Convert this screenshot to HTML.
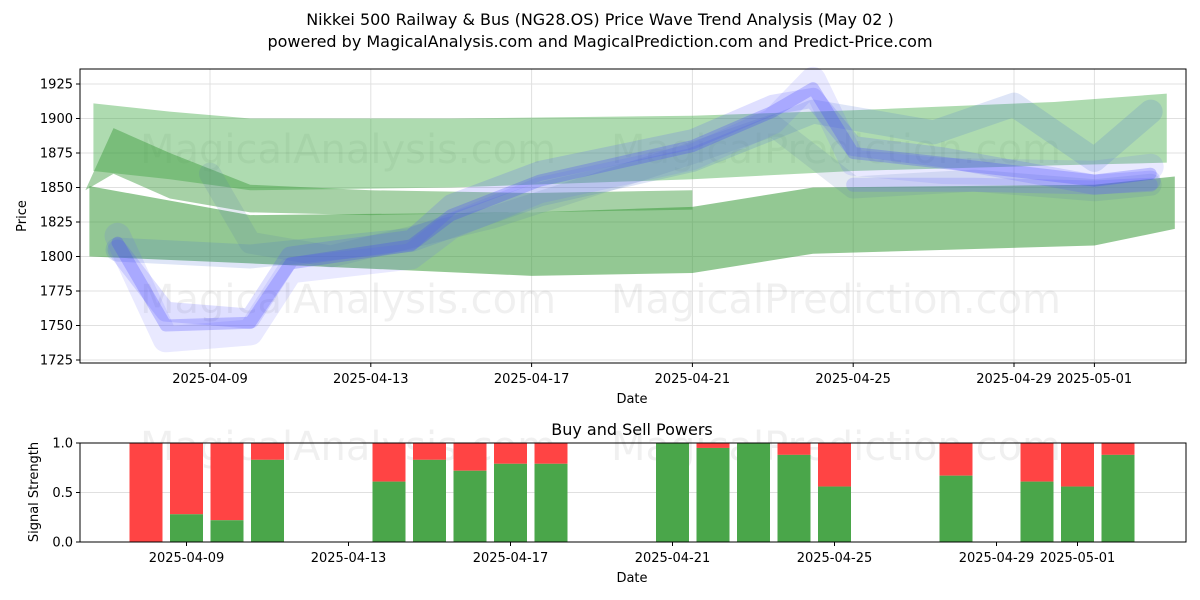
<!DOCTYPE html>
<html><head><meta charset="utf-8"><style>
body{margin:0;background:#fff;}
svg{display:block;font-family:"DejaVu Sans","Liberation Sans",sans-serif;}
</style></head><body>
<svg id="c" width="1200" height="600" viewBox="0 0 1200 600">
<text x="600" y="25" text-anchor="middle" font-size="16">Nikkei 500 Railway &amp; Bus (NG28.OS) Price Wave Trend Analysis (May 02 )</text>
<text x="600" y="47" text-anchor="middle" font-size="16">powered by MagicalAnalysis.com and MagicalPrediction.com and Predict-Price.com</text>
<g id="topPanel"></g>
<g id="botPanel"></g>
</svg>
<script>
// ---- data ----
const priceTicks = [1725,1750,1775,1800,1825,1850,1875,1900,1925];
const topDateTicks = ["2025-04-09","2025-04-13","2025-04-17","2025-04-21","2025-04-25","2025-04-29","2025-05-01"];
const topDateTickDays = [0,4,8,12,16,20,22];
const band1Days = [-2.9,-1,1,6,12,16,21,23.8];
const band1Upper = [1911,1905,1900,1900,1902,1906,1912,1918];
const band1Lower = [1862,1856,1848,1850,1856,1862,1866,1868];
const band2Days = [-3.1,-2.4,-1,1,4,8,12];
const band2Upper = [1848,1893,1875,1852,1848,1846,1848];
const band2Lower = [1848,1860,1842,1832,1830,1832,1834];
const band3Days = [-3,1,8,12,15,22,24];
const band3Upper = [1851,1830,1832,1836,1850,1852,1858];
const band3Lower = [1800,1795,1786,1788,1802,1808,1820];
const waveDays = [-2.3,-1.1,1,2,5,6,8.2,12,14,15,16,18.2,22,23.4];
const waveA = [1810,1750,1752,1795,1808,1830,1855,1880,1905,1922,1875,1868,1855,1860];
const waveB = [1805,1760,1755,1800,1812,1838,1862,1885,1910,1915,1880,1872,1852,1855];
const waveC = [1815,1740,1745,1790,1800,1822,1848,1872,1898,1928,1868,1862,1860,1865];
const wave2Days = [-2.3,1,5,8.2,12,15,18,20,22,23.4];
const wave2 = [1805,1800,1812,1845,1870,1905,1890,1910,1870,1905];
const wave3Days = [0,1,3,7,12,14,16,19,22,23.4];
const wave3 = [1860,1810,1800,1828,1875,1895,1850,1855,1848,1852];
const wave4Days = [16,19,22,23.4];
const wave4 = [1852,1852,1850,1852];
const sigDays = [-1,0,1,2,5,6,7,8,9,12,13,14,15,16,19,21,22,23];
const buyPower = [0,0.28,0.22,0.83,0.61,0.83,0.72,0.79,0.79,1.0,0.95,1.0,0.88,0.56,0.67,0.61,0.56,0.88];
const sigTicks = [0,0.5,1.0];
const sigTickLabels = ["0.0","0.5","1.0"];

const NS="http://www.w3.org/2000/svg";
function mk(tag,attrs,parent){const e=document.createElementNS(NS,tag);for(const k in attrs)e.setAttribute(k,attrs[k]);parent.appendChild(e);return e;}
const topG=document.getElementById('topPanel'), botG=document.getElementById('botPanel');
const TL=80,TR=1186,TT=69,TB=363;
const xT=d=>210+40.2*d;
const yT=p=>118.5+(1900-p)*1.38;
priceTicks.forEach(p=>{
  const g=mk('line',{x1:TL,x2:TR,y1:yT(p),y2:yT(p),stroke:'#e0e0e0','stroke-width':1},topG);
  
  
  mk('line',{x1:TL-4,x2:TL,y1:yT(p),y2:yT(p),stroke:'#000'},topG);
  const t=mk('text',{x:TL-7,y:yT(p)+4.5,'text-anchor':'end','font-size':13},topG);t.textContent=p;
  
  
});
topDateTicks.forEach((s,i)=>{
  const x=xT(topDateTickDays[i]);
  const g=mk('line',{x1:x,x2:x,y1:TT,y2:TB,stroke:'#e0e0e0'},topG);
  
  
  mk('line',{x1:x,x2:x,y1:TB,y2:TB+4,stroke:'#000'},topG);
  const t=mk('text',{x:x,y:TB+20,'text-anchor':'middle','font-size':13},topG);t.textContent=s;
  
  
});
function wm(x,y,s,p){const t=mk('text',{x:x,y:y,'text-anchor':'middle','font-size':40,fill:'#000','fill-opacity':0.06},p);t.textContent=s;
  
  }
wm(348,163,'MagicalAnalysis.com',topG);wm(836,163,'MagicalPrediction.com',topG);
wm(348,313,'MagicalAnalysis.com',topG);wm(836,313,'MagicalPrediction.com',topG);
function band(days,up,lo,fill,op,name){
  let pts=days.map((d,i)=>xT(d)+','+yT(up[i]));
  pts=pts.concat(days.map((d,i)=>xT(d)+','+yT(lo[i])).reverse());
  const e=mk('polygon',{points:pts.join(' '),fill:fill,'fill-opacity':op},topG);
  
  
}
band(band1Days,band1Upper,band1Lower,'#4caf50',0.45,'green-band-upper');
band(band2Days,band2Upper,band2Lower,'#3a9a3a',0.45,'green-band-middle');
band(band3Days,band3Upper,band3Lower,'#3a9a3a',0.55,'green-band-lower');
function wave(days,vals,w,op,col,name){
  const d=days.map((x,i)=>(i?'L':'M')+xT(x)+' '+yT(vals[i])).join(' ');
  const e=mk('path',{d:d,fill:'none',stroke:col,'stroke-width':w,'stroke-opacity':op,'stroke-linejoin':'round','stroke-linecap':'round'},topG);
  
  
}
wave(wave2Days,wave2,24,0.18,'#4a6fd0','wave-secondary');
wave(wave3Days,wave3,22,0.16,'#5a7ab0','wave-tertiary');
wave(wave4Days,wave4,14,0.2,'#6060ff','wave-flat');
wave(waveDays,waveC,26,0.14,'#6060ff','wave-outer');
wave(waveDays,waveB,20,0.18,'#5050ff','wave-mid');
wave(waveDays,waveA,12,0.25,'#4040ff','wave-main');
mk('rect',{x:TL,y:TT,width:TR-TL,height:TB-TT,fill:'none',stroke:'#000','stroke-width':1},topG);
let t=mk('text',{x:632,y:403,'text-anchor':'middle','font-size':13},topG);t.textContent='Date';

t=mk('text',{x:26,y:216,'text-anchor':'middle','font-size':13,transform:'rotate(-90 26 216)'},topG);t.textContent='Price';


const BL=80,BR=1186,BT=443,BB=542;
const xB=d=>186.5+40.5*d;
const yB=v=>BB-(BB-BT)*v;
wm(348,460,'MagicalAnalysis.com',botG);wm(836,460,'MagicalPrediction.com',botG);
sigTicks.forEach((v,i)=>{
  const g=mk('line',{x1:BL,x2:BR,y1:yB(v),y2:yB(v),stroke:'#e0e0e0'},botG);
  
  
  mk('line',{x1:BL-4,x2:BL,y1:yB(v),y2:yB(v),stroke:'#000'},botG);
  const tt=mk('text',{x:BL-7,y:yB(v)+4.5,'text-anchor':'end','font-size':13},botG);tt.textContent=sigTickLabels[i];
  
  
});
topDateTicks.forEach((s,i)=>{
  const x=xB(topDateTickDays[i]);
  mk('line',{x1:x,x2:x,y1:BB,y2:BB+4,stroke:'#000'},botG);
  const tt=mk('text',{x:x,y:BB+20,'text-anchor':'middle','font-size':13},botG);tt.textContent=s;
  
  
});
sigDays.forEach((d,i)=>{
  const x=xB(d)-16.5,b=buyPower[i];
  const r=mk('rect',{x:x,y:yB(1),width:33,height:yB(b)-yB(1),fill:'#ff4444'},botG);
  
  
  const g=mk('rect',{x:x,y:yB(b),width:33,height:BB-yB(b),fill:'#4aa64a'},botG);
  
  
});
mk('rect',{x:BL,y:BT,width:BR-BL,height:BB-BT,fill:'none',stroke:'#000'},botG);
t=mk('text',{x:632,y:435,'text-anchor':'middle','font-size':16},botG);t.textContent='Buy and Sell Powers';

t=mk('text',{x:632,y:582,'text-anchor':'middle','font-size':13},botG);t.textContent='Date';

t=mk('text',{x:38,y:492,'text-anchor':'middle','font-size':13,transform:'rotate(-90 38 492)'},botG);t.textContent='Signal Strength';

</script>
</body></html>
